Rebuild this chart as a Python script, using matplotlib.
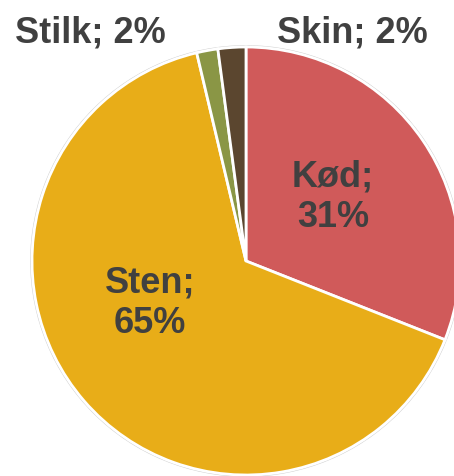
import matplotlib
matplotlib.use('Agg')
import matplotlib.pyplot as plt
import matplotlib.patches as patches

# Data
labels = ['Kød', 'Sten', 'Stilk', 'Skin']
values = [31.0, 65.3, 1.6, 2.1]
colors = ['#D05A5A', '#E8AD18', '#8A9645', '#5B462F']
text_color = '#404040'

# Canvas: 454x476 px
fig = plt.figure(figsize=(4.54, 4.76), dpi=100)
ax = fig.add_axes([0, 0, 1, 1])
R = 214.0
cx, cy = 246.0, 261.0

# faint outer ring
ax.add_patch(patches.Circle((0, 0), 1.006, fc='none', ec='#D0D0D0', lw=0.8, zorder=0))

wedges, _ = ax.pie(values, colors=colors, startangle=90, counterclock=False,
                   radius=1.0, center=(0, 0), frame=True,
                   wedgeprops=dict(edgecolor='white', linewidth=2))
ax.set_xlim(-cx / R, (454 - cx) / R)
ax.set_ylim((cy - 476) / R, cy / R)
ax.set_aspect('equal')
ax.axis('off')

total = sum(values)
pct = [round(v / total * 100) for v in values]

fs = 26
font = dict(color=text_color, fontsize=fs, fontweight='bold',
            family='Liberation Sans', ha='center', va='center')

# inside labels (two lines)
ax.text(0.407, 0.297, f"{labels[0]};\n{pct[0]}%", linespacing=1.2, **font)
ax.text(-0.449, -0.198, f"{labels[1]};\n{pct[1]}%", linespacing=1.2, **font)
# outside labels (one line)
ax.text(-0.725, 1.065, f"{labels[2]}; {pct[2]}%", **font)
ax.text(0.497, 1.065, f"{labels[3]}; {pct[3]}%", **font)

fig.savefig('out.png', dpi=100)
